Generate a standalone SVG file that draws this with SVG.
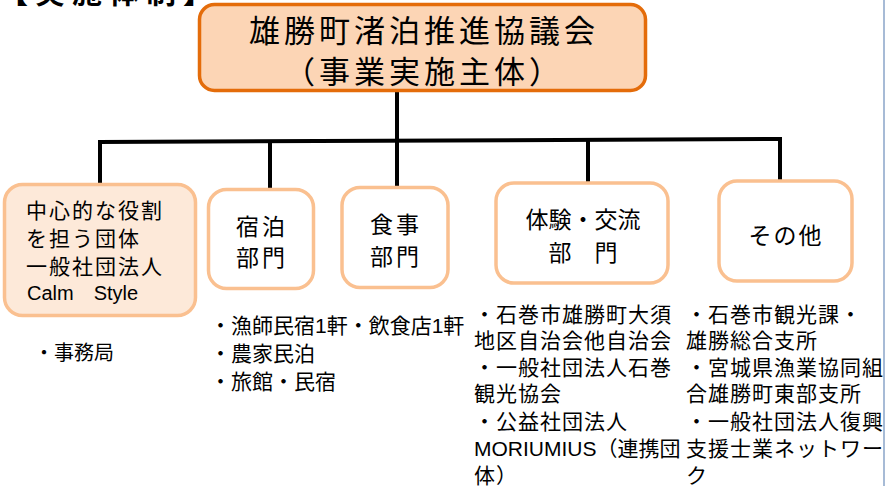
<svg xmlns="http://www.w3.org/2000/svg" width="885" height="486" viewBox="0 0 885 486">
<style>
text{font-family:"Liberation Sans","Noto Sans CJK JP",sans-serif;fill:#000}
.node{fill:#fff;stroke:#FAC090;stroke-width:3.5}
.hd{font-size:23px;text-anchor:middle}
.ls{font-size:21px}
.conn{stroke:#000;stroke-width:4;fill:none}
</style>
<rect width="885" height="486" fill="#fff"/>
<text x="-2" y="3" style="font-size:30px;font-weight:bold;letter-spacing:7px">【実施体制】</text>
<line x1="884" y1="0" x2="884" y2="486" stroke="#8AA4C8" stroke-width="1.5"/>
<g id="connectors">
<line class="conn" x1="397" y1="91" x2="397" y2="187"/>
<line class="conn" x1="98" y1="142" x2="782" y2="139"/>
<line class="conn" x1="100" y1="142" x2="100" y2="184"/>
<line class="conn" x1="270" y1="141" x2="270" y2="189"/>
<line class="conn" x1="588" y1="140" x2="588" y2="182"/>
<line class="conn" x1="780" y1="139" x2="780" y2="180"/>
</g>
<g id="top">
<rect x="199.5" y="4.5" width="446" height="86" rx="15" fill="#FCD5B5" stroke="#E46C0A" stroke-width="3.5"/>
<text x="424" y="42" style="font-size:31px;text-anchor:middle;letter-spacing:4px">雄勝町渚泊推進協議会</text>
<text x="424" y="83" style="font-size:31px;text-anchor:middle;letter-spacing:4px">（事業実施主体）</text>
</g>
<g id="core">
<rect x="4.5" y="184.5" width="191" height="131" rx="18" fill="#FDE9D9" stroke="#FAC090" stroke-width="3.5"/>
<text x="26" y="218" style="font-size:21px;letter-spacing:2px">中心的な役割</text>
<text x="26" y="246" style="font-size:21px;letter-spacing:2px">を担う団体</text>
<text x="26" y="274" style="font-size:21px;letter-spacing:2px">一般社団法人</text>
<text x="27" y="300" style="font-size:20px">Calm　Style</text>
<text x="34" y="360" style="font-size:20px">・事務局</text>
</g>
<g id="stay">
<rect class="node" x="208.5" y="189.5" width="105" height="99" rx="18"/>
<text class="hd" x="262" y="235" style="letter-spacing:3px">宿泊</text>
<text class="hd" x="262" y="266" style="letter-spacing:3px">部門</text>
<text class="ls" x="210" y="333">・漁師民宿1軒・飲食店1軒</text>
<text class="ls" x="210" y="361">・農家民泊</text>
<text class="ls" x="210" y="389">・旅館・民宿</text>
</g>
<g id="food">
<rect class="node" x="342" y="187.5" width="106" height="100" rx="18"/>
<text class="hd" x="396" y="233" style="letter-spacing:3px">食事</text>
<text class="hd" x="396" y="265" style="letter-spacing:3px">部門</text>
</g>
<g id="experience">
<rect class="node" x="496" y="183" width="172" height="100" rx="18"/>
<text class="hd" x="583" y="228" style="letter-spacing:0px">体験・交流</text>
<text class="hd" x="583" y="261" style="letter-spacing:0px">部　門</text>
<text class="ls" x="474" y="322" style="letter-spacing:1px">・石巻市雄勝町大須</text>
<text class="ls" x="474" y="348" style="letter-spacing:1px">地区自治会他自治会</text>
<text class="ls" x="474" y="375" style="letter-spacing:1px">・一般社団法人石巻</text>
<text class="ls" x="474" y="401" style="letter-spacing:1px">観光協会</text>
<text class="ls" x="474" y="429" style="letter-spacing:1px">・公益社団法人</text>
<text class="ls" x="474" y="456" style="letter-spacing:0px">MORIUMIUS（連携団</text>
<text class="ls" x="474" y="483" style="letter-spacing:1px">体）</text>
</g>
<g id="other">
<rect class="node" x="719" y="181" width="133" height="100" rx="18"/>
<text class="hd" x="786" y="244" style="letter-spacing:2px">その他</text>
<text class="ls" x="686" y="322" style="letter-spacing:1px">・石巻市観光課・</text>
<text class="ls" x="686" y="348" style="letter-spacing:1px">雄勝総合支所</text>
<text class="ls" x="686" y="375" style="letter-spacing:1px">・宮城県漁業協同組</text>
<text class="ls" x="686" y="401" style="letter-spacing:1px">合雄勝町東部支所</text>
<text class="ls" x="686" y="429" style="letter-spacing:1px">・一般社団法人復興</text>
<text class="ls" x="686" y="456" style="letter-spacing:1px">支援士業ネットワー</text>
<text class="ls" x="686" y="483" style="letter-spacing:1px">ク</text>
</g>
</svg>
